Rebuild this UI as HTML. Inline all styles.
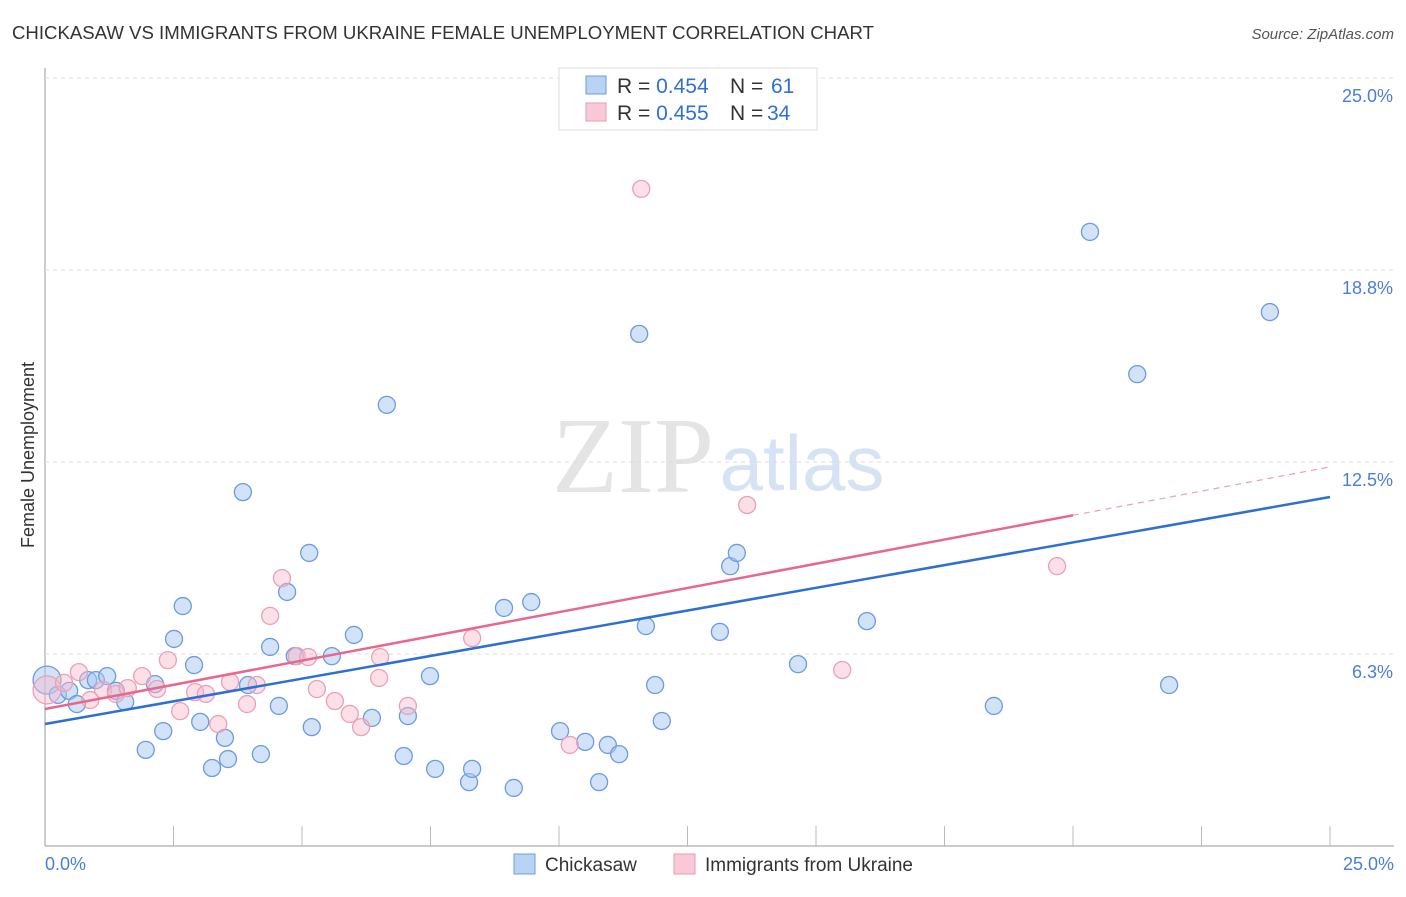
<!DOCTYPE html>
<html><head><meta charset="utf-8"><style>
body{margin:0;background:#fff;font-family:"Liberation Sans",sans-serif;}
#c{position:relative;width:1406px;height:892px;}
</style></head><body>
<div id="c">
<svg id="s" width="1406" height="892" xmlns="http://www.w3.org/2000/svg">
<text x="12" y="39" font-size="18.6" fill="#333">CHICKASAW VS IMMIGRANTS FROM UKRAINE FEMALE UNEMPLOYMENT CORRELATION CHART</text>
<text x="1394" y="39" font-size="15" fill="#555" text-anchor="end" font-style="italic">Source: ZipAtlas.com</text>
<text x="633" y="492" font-size="108" fill="#e4e4e4" font-family="Liberation Serif,serif" text-anchor="middle">ZIP</text>
<text x="802" y="490" font-size="78" fill="#d6e3f5" text-anchor="middle">atlas</text>
<text transform="translate(34,455) rotate(-90)" font-size="18" fill="#333" text-anchor="middle">Female Unemployment</text>
<g id="grid"></g><g id="pts"></g><g id="lines"></g>
<g>
<rect x="559" y="68" width="258" height="62" fill="#fff" stroke="#ddd"/>
<rect x="586" y="76" width="20" height="18" fill="#b9d3f3" stroke="#6b9be0"/>
<rect x="586" y="103" width="20" height="18" fill="#f9c9d7" stroke="#e89ab3"/>
<text x="617" y="93" font-size="21" fill="#333">R = <tspan fill="#2f6fd6">0.454</tspan><tspan x="730">N = </tspan><tspan x="771" fill="#2f6fd6">61</tspan></text>
<text x="617" y="120" font-size="21" fill="#333">R = <tspan fill="#2f6fd6">0.455</tspan><tspan x="730">N = </tspan><tspan x="767" fill="#2f6fd6">34</tspan></text>
</g>
<g>
<rect x="514" y="854" width="21" height="20" fill="#b9d3f3" stroke="#6b9be0"/>
<text x="545" y="871" font-size="19" fill="#333">Chickasaw</text>
<rect x="674" y="854" width="21" height="20" fill="#f9c9d7" stroke="#e89ab3"/>
<text x="705" y="871" font-size="19" fill="#333">Immigrants from Ukraine</text>
</g>
<text x="45" y="870" font-size="18" fill="#4a7fd4">0.0%</text>
<text x="1394" y="870" font-size="18" fill="#4a7fd4" text-anchor="end">25.0%</text>
</svg></div>
<script>
const blueX=[0.04,0.25,0.47,0.62,0.84,0.99,1.21,1.38,1.56,1.96,2.14,2.30,2.51,2.68,2.90,3.02,3.25,3.50,3.56,3.85,3.95,4.20,4.38,4.55,4.71,4.86,5.14,5.19,5.58,6.01,6.36,6.65,6.98,7.06,7.49,7.59,8.25,8.31,8.93,9.12,9.46,10.02,10.51,10.78,10.95,11.17,11.56,11.69,11.87,12.00,13.13,13.33,13.46,14.65,15.99,18.46,20.33,21.25,21.87,23.83];
const blueY=[5.40,4.92,5.05,4.62,5.40,5.40,5.53,5.05,4.69,3.13,5.27,3.74,6.74,7.81,5.89,4.04,2.54,3.52,2.83,11.52,5.24,2.99,6.48,4.56,8.27,6.18,9.54,3.87,6.18,6.87,4.17,14.36,2.93,4.23,5.53,2.51,2.08,2.51,7.75,1.89,7.94,3.74,3.39,2.08,3.29,2.99,16.67,7.16,5.24,4.07,6.97,9.11,9.54,5.92,7.32,4.56,19.99,15.36,5.24,17.38];
const pinkX=[0.04,0.37,0.66,0.88,1.13,1.38,1.61,1.89,2.18,2.39,2.63,2.92,3.13,3.37,3.60,3.93,4.12,4.38,4.61,4.90,5.12,5.29,5.64,5.93,6.15,6.52,6.50,7.06,8.31,10.21,11.60,13.66,15.51,19.69];
const pinkY=[5.08,5.31,5.66,4.75,5.08,4.95,5.14,5.53,5.11,6.05,4.39,5.01,4.95,3.97,5.34,4.62,5.24,7.49,8.72,6.18,6.15,5.11,4.72,4.30,3.87,6.15,5.47,4.56,6.77,3.29,21.39,11.10,5.73,9.11];
const yTicks=[6.25,12.5,18.75,25];
const yTickLabels=["6.3%","12.5%","18.8%","25.0%"];
const xTicks=[0,2.5,5,7.5,10,12.5,15,17.5,20,22.5,25];
const blueTrend=[3.97,11.36];
const pinkTrend=[4.46,12.34];
const NS="http://www.w3.org/2000/svg";
const sx=v=>45+v*51.4, sy=v=>846-v*30.72;
function mk(t,a,p){const e=document.createElementNS(NS,t);for(const k in a)e.setAttribute(k,a[k]);p.appendChild(e);return e;}
const g=document.getElementById('grid');
let ax=mk('line',{x1:45,x2:1394,y1:846,y2:846,stroke:'#bbb','stroke-width':1.5},g);


let ay=mk('line',{x1:45,x2:45,y1:68,y2:846,stroke:'#bbb','stroke-width':1.5},g);


yTicks.forEach((v,i)=>{
 const l=mk('line',{x1:45,x2:1394,y1:sy(v),y2:sy(v),stroke:'#ddd','stroke-dasharray':'4,4'},g);
 
 
 const t=mk('text',{x:1393,y:sy(v)+24,'font-size':18,fill:'#4a7fd4','text-anchor':'end'},g);
 t.textContent=yTickLabels[i];
 
 
});
xTicks.forEach(v=>{
 const l=mk('line',{x1:sx(v),x2:sx(v),y1:826,y2:846,stroke:'#bbb'},g);
 
 
});
const P=document.getElementById('pts');
blueX.forEach((x,i)=>{
 const c=mk('circle',{cx:sx(x),cy:sy(blueY[i]),r:i==0?14:8.5,fill:'rgba(165,199,242,0.5)',stroke:'#6b9be0','stroke-width':1.3},P);
 
 
});
pinkX.forEach((x,i)=>{
 const c=mk('circle',{cx:sx(x),cy:sy(pinkY[i]),r:i==0?14:8.5,fill:'rgba(247,186,205,0.45)',stroke:'#eba0b8','stroke-width':1.3},P);
 
 
});
const L=document.getElementById('lines');
let bl=mk('line',{x1:sx(0),y1:sy(blueTrend[0]),x2:sx(25),y2:sy(blueTrend[1]),stroke:'#2e6fd6','stroke-width':2.5},L);


const pAt=x=>pinkTrend[0]+(pinkTrend[1]-pinkTrend[0])*x/25;
let pl=mk('line',{x1:sx(0),y1:sy(pAt(0)),x2:sx(20),y2:sy(pAt(20)),stroke:'#e8678f','stroke-width':2.5},L);


let pd=mk('line',{x1:sx(20),y1:sy(pAt(20)),x2:sx(25),y2:sy(pAt(25)),stroke:'#e8a0b6','stroke-width':1.2,'stroke-dasharray':'6,5'},L);


</script>
</body></html>
